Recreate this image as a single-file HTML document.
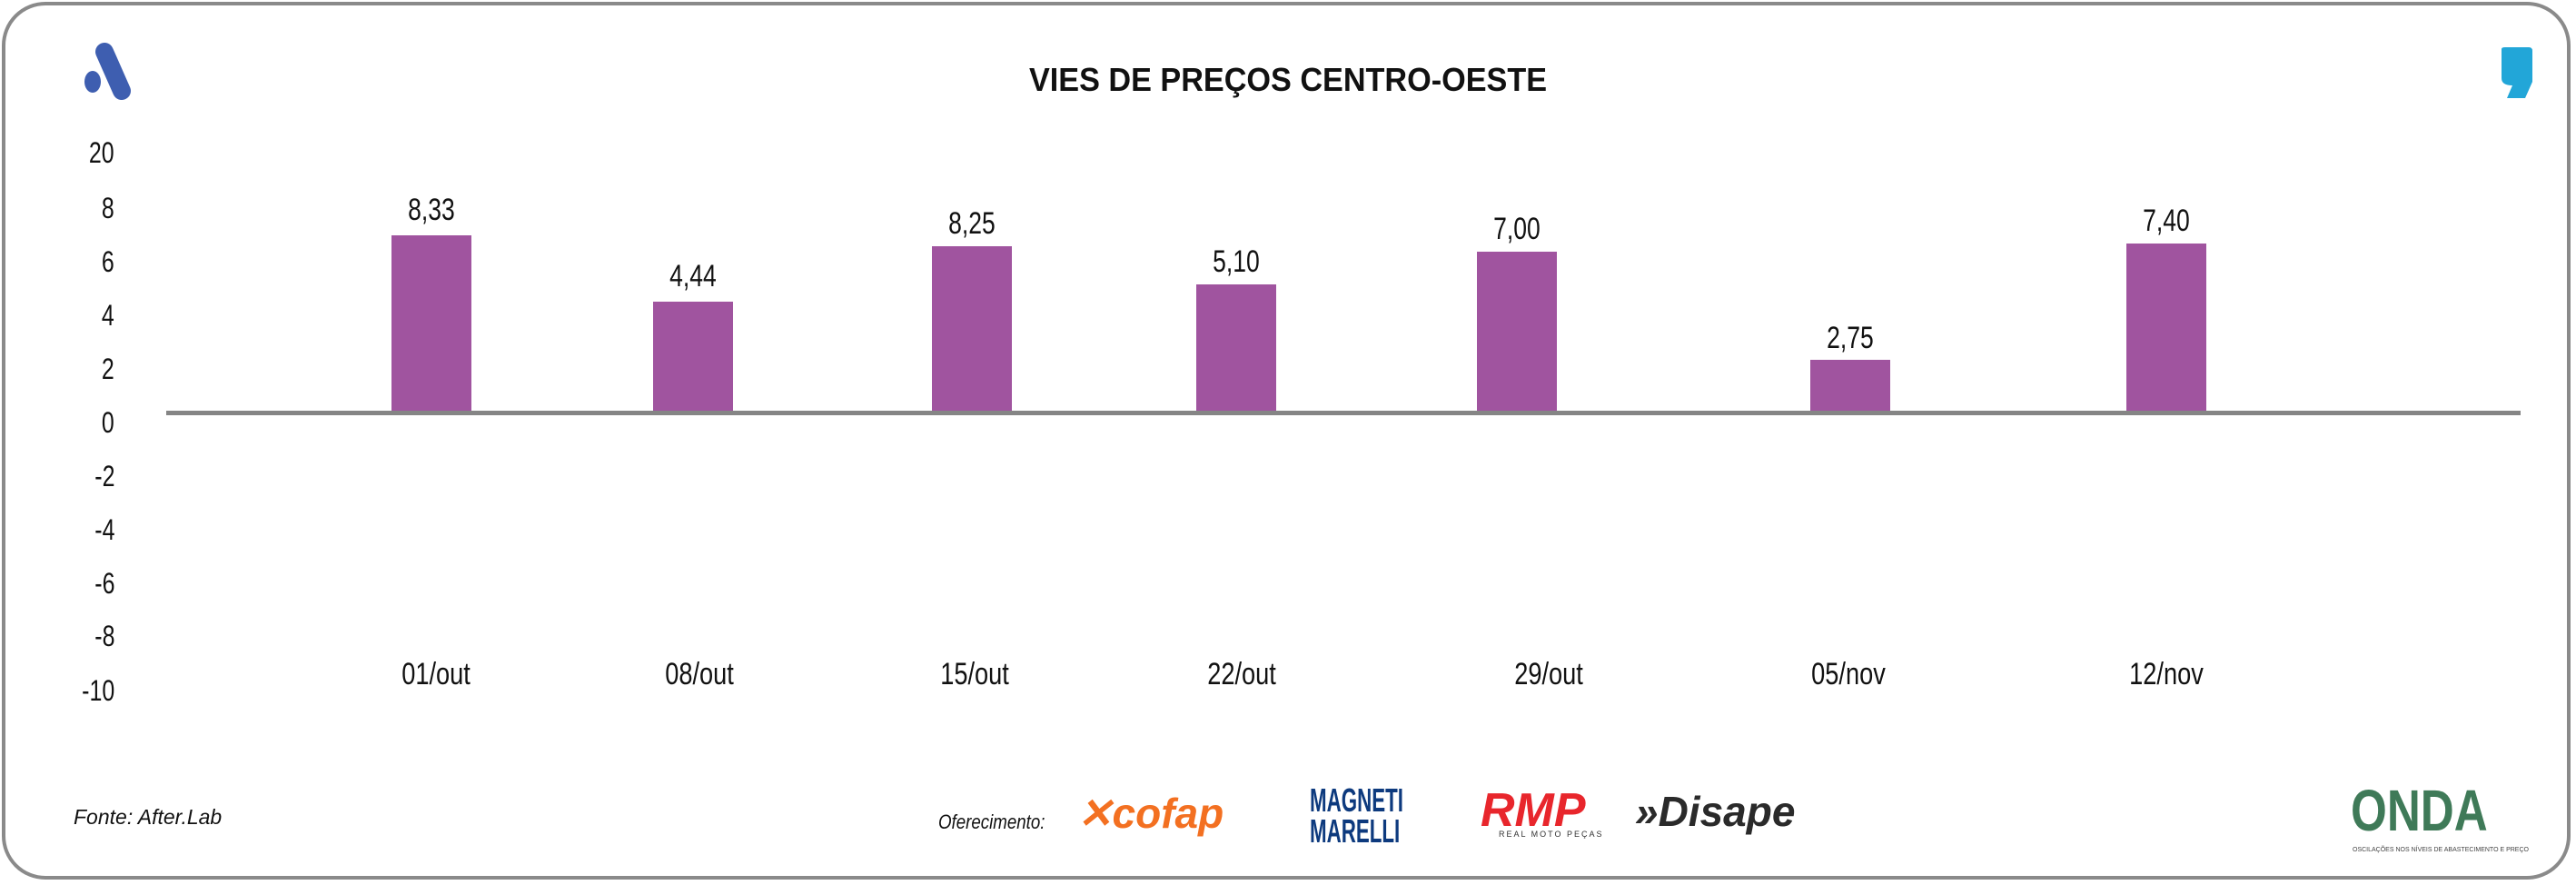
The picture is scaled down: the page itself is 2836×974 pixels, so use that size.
<!DOCTYPE html>
<html><head><meta charset="utf-8"><style>
html,body{margin:0;padding:0;background:#fff}
body{width:2836px;height:974px;position:relative;overflow:hidden;font-family:"Liberation Sans",sans-serif;color:#111}
.frame{position:absolute;left:2px;top:2px;width:2828px;height:966px;border:4px solid #8a8a8a;border-radius:48px;box-sizing:border-box}
.t{position:absolute;white-space:nowrap;line-height:1}
.yl{position:absolute;right:2710px;font-size:32px;line-height:1;transform:translateY(-50%) scaleX(0.78);transform-origin:right center}
.bar{position:absolute;background:#a0549f;width:88px}
.vl{position:absolute;font-size:34px;transform:translate(-50%,-50%) scaleX(0.78);line-height:1}
.xl{position:absolute;font-size:34px;transform:translate(-50%,-50%) scaleX(0.8);line-height:1;top:742px}
</style></head><body>
<div class="frame"></div>
<svg style="position:absolute;left:80px;top:45px" width="80" height="70" viewBox="0 0 80 70">
<ellipse cx="22" cy="45" rx="9" ry="12" fill="#3e5eb0"/>
<line x1="35" y1="12" x2="54" y2="55" stroke="#3e5eb0" stroke-width="20" stroke-linecap="round"/>
</svg>
<svg style="position:absolute;left:2750px;top:52px" width="42" height="58" viewBox="0 0 42 58">
<path d="M4 2 Q4 0 8 0 H34 Q38 0 38 4 V38 L30 56 H10 L16 42 Q4 42 4 34 Z" fill="#22a6d8"/>
</svg>
<div class="t" style="left:0;width:2836px;text-align:center;top:70px;font-size:36px;font-weight:bold;transform:scaleX(0.95)">VIES DE PREÇOS CENTRO-OESTE</div>

<div class="yl" style="top:168px">20</div>
<div class="yl" style="top:229px">8</div>
<div class="yl" style="top:288px">6</div>
<div class="yl" style="top:347px">4</div>
<div class="yl" style="top:406px">2</div>
<div class="yl" style="top:465px">0</div>
<div class="yl" style="top:524px">-2</div>
<div class="yl" style="top:583px">-4</div>
<div class="yl" style="top:642px">-6</div>
<div class="yl" style="top:700px">-8</div>
<div class="yl" style="top:760px">-10</div>

<div class="bar" style="left:431px;top:259px;height:193px"></div>
<div class="bar" style="left:719px;top:332px;height:120px"></div>
<div class="bar" style="left:1026px;top:271px;height:181px"></div>
<div class="bar" style="left:1317px;top:313px;height:139px"></div>
<div class="bar" style="left:1626px;top:277px;height:175px"></div>
<div class="bar" style="left:1993px;top:396px;height:56px"></div>
<div class="bar" style="left:2341px;top:268px;height:184px"></div>
<div style="position:absolute;left:183px;top:452px;width:2592px;height:5px;background:#858585"></div>

<div class="vl" style="left:475px;top:231px">8,33</div>
<div class="vl" style="left:763px;top:304px">4,44</div>
<div class="vl" style="left:1070px;top:246px">8,25</div>
<div class="vl" style="left:1361px;top:288px">5,10</div>
<div class="vl" style="left:1670px;top:252px">7,00</div>
<div class="vl" style="left:2037px;top:372px">2,75</div>
<div class="vl" style="left:2385px;top:243px">7,40</div>

<div class="xl" style="left:480px">01/out</div>
<div class="xl" style="left:770px">08/out</div>
<div class="xl" style="left:1073px">15/out</div>
<div class="xl" style="left:1367px">22/out</div>
<div class="xl" style="left:1705px">29/out</div>
<div class="xl" style="left:2035px">05/nov</div>
<div class="xl" style="left:2385px">12/nov</div>

<div class="t" style="left:81px;top:888px;font-size:23px;font-style:italic">Fonte: After.Lab</div>
<div class="t" style="left:1033px;top:894px;font-size:22px;font-style:italic;transform:scaleX(0.85);transform-origin:left">Oferecimento:</div>
<div class="t" style="left:1186px;top:872px;font-size:46px;font-weight:bold;font-style:italic;color:#f37021">✕cofap</div>
<div class="t" style="left:1442px;top:864px;font-size:36px;font-weight:bold;color:#0d3a7e;line-height:0.95;transform:scaleX(0.62);transform-origin:left">MAGNETI<br>MARELLI</div>
<div class="t" style="left:1630px;top:866px;font-size:52px;font-weight:bold;font-style:italic;color:#e8262c">RMP</div>
<div class="t" style="left:1650px;top:914px;font-size:9px;color:#333;letter-spacing:2px">REAL MOTO PEÇAS</div>
<div class="t" style="left:1800px;top:870px;font-size:46px;font-weight:bold;font-style:italic;color:#2a2a2a">»Disape</div>
<div class="t" style="left:2588px;top:860px;font-size:64px;font-weight:bold;color:#3f7a58;transform:scaleX(0.8);transform-origin:left">ONDA</div>
<div class="t" style="left:2590px;top:932px;font-size:7px;color:#444">OSCILAÇÕES NOS NÍVEIS DE ABASTECIMENTO E PREÇO</div>
</body></html>
